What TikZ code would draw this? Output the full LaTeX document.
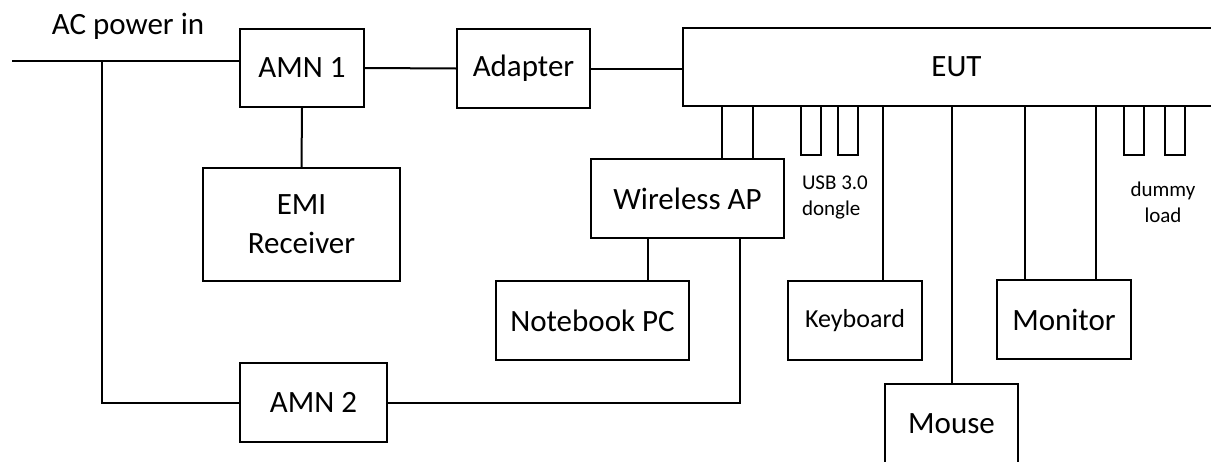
\documentclass[tikz,border=0pt]{standalone}
\usepackage{fontspec}
\setmainfont{Carlito}
\usetikzlibrary{shapes,arrows,positioning}

\begin{document}
\begin{tikzpicture}[x=0.5pt,y=-0.5pt,line width=1pt]
    \tikzstyle{unit}=[rectangle,draw,inner sep=0pt,minimum height=39.5pt,align=center,font=\fontsize{15.5}{19.5}\selectfont]
    \tikzstyle{port}=[rectangle,draw,inner sep=0pt,minimum width=10pt,minimum height=24.5pt]
    \tikzstyle{annot}=[inner sep=0pt,font=\fontsize{10.5}{13}\selectfont]

    \clip (0,0) rectangle (1211,461);

    % Draw the mains side
    \node[inner sep=0pt,font=\fontsize{15.5}{19.5}\selectfont] (AC) at (128,26) {AC power in};
    \node[unit,minimum width=62pt,minimum height=39pt] (AMN-1) at (302,68) {AMN 1};
    \node[unit,minimum width=98.5pt,minimum height=56.5pt] (EMI) at (301.5,224.5) {EMI\\Receiver};
    \node[unit,minimum width=73.5pt] (AMN-2) at (313.5,402.5) {AMN 2};
    \node[unit,minimum width=66.5pt] (Adapter) at (523.5,68.5) {Adapter};

    % Draw the EUT and the units round it
    \node[unit,minimum width=273.5pt,minimum height=39pt] (EUT) at (956.5,67) {EUT};
    \node[unit,minimum width=96.5pt] (WAP) at (687.5,198.5) {Wireless AP};
    \node[unit,minimum width=96.5pt] (NB) at (592.5,320.5) {Notebook PC};
    \node[unit,minimum width=67pt,font=\fontsize{13}{16}\selectfont] (KB) at (855,320.5) {Keyboard};
    \node[unit,minimum width=66.5pt] (Mouse) at (951.5,423.5) {Mouse};
    \node[unit,minimum width=67pt] (Monitor) at (1064,319.5) {Monitor};

    % Draw the USB dongles and the dummy loads
    \foreach \name / \x in {1/811,2/848}
        \node[port] (USB-\name) at (\x,130.5) {};
    \foreach \name / \x in {1/1134,2/1175}
        \node[port] (D-\name) at (\x,130.5) {};
    \node[annot,align=left,anchor=west] (usb) at (801,197) {USB 3.0\\dongle};
    \node[annot,align=center] (dummy) at (1163,202) {dummy\\load};

    % Connect the mains side
    \coordinate (ac-in) at (12,61);
    \coordinate (tap) at (102,61);
    \draw (ac-in) -- (ac-in -| AMN-1.west);
    \draw (tap) |- (AMN-2.west);
    \draw (AMN-1.south) -- (EMI.north);
    \draw (AMN-1.east) -- (Adapter.west);
    \draw (Adapter.east) -- (Adapter.east -| EUT.west);

    % Connect the units to the EUT
    \foreach \x in {722,753}
        \draw (EUT.south -| \x,0) -- (WAP.north -| \x,0);
    \draw (WAP.south -| 648,0) -- (NB.north -| 648,0);
    \draw (WAP.south -| 740,0) |- (AMN-2.east);
    \draw (EUT.south -| 883,0) -- (KB.north -| 883,0);
    \draw (EUT.south -| Mouse.north) -- (Mouse.north);
    \foreach \x in {1025,1096}
        \draw (EUT.south -| \x,0) -- (Monitor.north -| \x,0);

\end{tikzpicture}
\end{document}
